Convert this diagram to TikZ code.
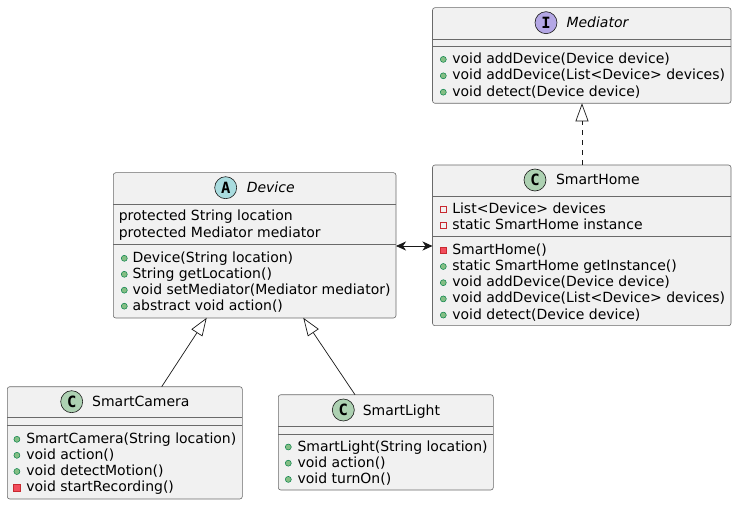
\documentclass[tikz,border=0pt]{standalone}
\usepackage{fontspec}
\setmainfont{DejaVu Sans}
\newfontfamily\circfont{DejaVu Sans Mono}
\usetikzlibrary{arrows.meta}
\definecolor{ln}{HTML}{181818}
\definecolor{bordln}{HTML}{6A6A6A}
\definecolor{boxfill}{HTML}{F1F1F1}
\definecolor{cgreen}{HTML}{ADD1B2}
\definecolor{acyan}{HTML}{A9DCDF}
\definecolor{ipurple}{HTML}{B4A7E5}
\definecolor{pubfill}{HTML}{84BE84}
\definecolor{publine}{HTML}{038048}
\definecolor{privline}{HTML}{C82930}
\definecolor{privfill}{HTML}{F24D5C}
\newcommand\memsize{\fontsize{14}{16}\selectfont}
\tikzset{
  umlbox/.style={draw=bordln, fill=boxfill, line width=0.6pt, rounded corners=2.5pt, anchor=north west, inner sep=0pt, outer sep=0pt},
  sepline/.style={draw=bordln, line width=0.6pt},
  mem/.style={anchor=base west, inner sep=0pt, outer sep=0pt, font=\memsize, text=black},
  ttl/.style={anchor=base west, inner sep=0pt, outer sep=0pt, font=\memsize, text=black},
  ittl/.style={ttl, font=\memsize\itshape},
  pubicon/.style={circle, fill=pubfill, draw=publine, line width=0.5pt, minimum size=6pt, inner sep=0pt},
  privicon/.style={rectangle, draw=privline, fill=none, line width=0.6pt, minimum size=6pt, inner sep=0pt},
  privmicon/.style={rectangle, draw=privline, fill=privfill, line width=0.5pt, minimum size=6.5pt, inner sep=0pt},
  stereo/.style={circle, draw=ln, line width=0.6pt, minimum size=22pt, inner sep=0pt, font=\circfont\bfseries\fontsize{15.5}{15.5}\selectfont},
  conn/.style={draw=ln, line width=0.7pt},
  inh/.style={conn, -{Triangle[open, length=18pt, width=13pt]}},
  real/.style={conn, dash pattern=on 5pt off 5pt, -{Triangle[open, length=18pt, width=13pt]}},
  bidir/.style={conn, {Stealth[length=10pt, width=9pt, inset=3pt]}-{Stealth[length=10pt, width=9pt, inset=3pt]}}
}
% name, iconstyle, iconx, textx, baseline, text
\newcommand\umlmember[6]{%
  \node[#2] (#1i) at (#3,#5-4) {};
  \node[mem] (#1) at (#4,#5) {#6};}
\begin{document}
\begin{tikzpicture}[x=1pt,y=-1pt]
\useasboundingbox[fill=white] (0,0) rectangle (737,505);

% ---------------- Mediator ----------------
\node[umlbox, minimum width=298.5pt, minimum height=95.6pt] (med) at (432.5,7.7) {};
\draw[sepline] (432.5,39.3) -- (731,39.3);
\draw[sepline] (432.5,46.7) -- (731,46.7);
\node[stereo, fill=ipurple] (medc) at (546,22.7) {I};
\node[ittl] (medt) at (566.5,27.8) {Mediator};
\umlmember{ma}{pubicon}{443.3}{452.3}{63.4}{void addDevice(Device device)}
\umlmember{mb}{pubicon}{443.3}{452.3}{79.8}{void addDevice(List<Device> devices)}
\umlmember{mc}{pubicon}{443.3}{452.3}{96.2}{void detect(Device device)}

% ---------------- SmartHome ----------------
\node[umlbox, minimum width=298.5pt, minimum height=160.7pt] (sh) at (432.5,165) {};
\draw[sepline] (432.5,196) -- (731,196);
\draw[sepline] (432.5,236) -- (731,236);
\node[stereo, fill=cgreen] (shc) at (535,180) {C};
\node[ttl] (sht) at (556,185) {SmartHome};
\umlmember{sha}{privicon}{443.3}{452.3}{213.3}{List<Device> devices}
\umlmember{shb}{privicon}{443.3}{452.3}{229.5}{static SmartHome instance}
\umlmember{shc1}{privmicon}{443.3}{452.3}{254.3}{SmartHome()}
\umlmember{shc2}{pubicon}{443.3}{452.3}{270.5}{static SmartHome getInstance()}
\umlmember{shc3}{pubicon}{443.3}{452.3}{286.7}{void addDevice(Device device)}
\umlmember{shc4}{pubicon}{443.3}{452.3}{302.9}{void addDevice(List<Device> devices)}
\umlmember{shc5}{pubicon}{443.3}{452.3}{319.1}{void detect(Device device)}

% ---------------- Device ----------------
\node[umlbox, minimum width=282.7pt, minimum height=145.3pt] (dev) at (113.3,172.7) {};
\draw[sepline] (113.3,204.3) -- (396,204.3);
\draw[sepline] (113.3,244.3) -- (396,244.3);
\node[stereo, fill=acyan] (devc) at (225.7,187.7) {A};
\node[ittl] (devt) at (246.8,192.8) {Device};
\node[mem] (dfa) at (118.8,221) {protected String location};
\node[mem] (dfb) at (118.8,237.2) {protected Mediator mediator};
\umlmember{dma}{pubicon}{124.3}{132.6}{262.3}{Device(String location)}
\umlmember{dmb}{pubicon}{124.3}{132.6}{278.3}{String getLocation()}
\umlmember{dmc}{pubicon}{124.3}{132.6}{294.2}{void setMediator(Mediator mediator)}
\umlmember{dmd}{pubicon}{124.3}{132.6}{310.2}{abstract void action()}

% ---------------- SmartCamera ----------------
\node[umlbox, minimum width=235pt, minimum height=112.3pt] (cam) at (7.3,386.7) {};
\draw[sepline] (7.3,417.7) -- (242.3,417.7);
\draw[sepline] (7.3,425.7) -- (242.3,425.7);
\node[stereo, fill=cgreen] (camc) at (71.7,401.7) {C};
\node[ttl] (camt) at (92.2,406.8) {SmartCamera};
\umlmember{ca}{pubicon}{16.9}{26.3}{443.3}{SmartCamera(String location)}
\umlmember{cb}{pubicon}{16.9}{26.3}{459.3}{void action()}
\umlmember{cc}{pubicon}{16.9}{26.3}{475.5}{void detectMotion()}
\umlmember{cd}{privmicon}{16.9}{26.3}{491.7}{void startRecording()}

% ---------------- SmartLight ----------------
\node[umlbox, minimum width=215pt, minimum height=95.3pt] (lig) at (278.3,394.7) {};
\draw[sepline] (278.3,426) -- (493.3,426);
\draw[sepline] (278.3,434) -- (493.3,434);
\node[stereo, fill=cgreen] (ligc) at (343.3,410) {C};
\node[ttl] (ligt) at (362.8,415) {SmartLight};
\umlmember{la}{pubicon}{288.3}{297.6}{451}{SmartLight(String location)}
\umlmember{lb}{pubicon}{288.3}{297.6}{467.2}{void action()}
\umlmember{lc}{pubicon}{288.3}{297.6}{483.4}{void turnOn()}

% ---------------- connectors ----------------
\coordinate (medB) at (582,103.3);
\coordinate (shT) at (582,165);
\coordinate (devR) at (396,246);
\coordinate (shL) at (432.5,246);
\coordinate (devBl) at (206.7,317.8);
\coordinate (devBr) at (303.3,317.8);
\coordinate (camT) at (161.7,386.7);
\coordinate (ligT) at (355,394.7);

\draw[real] (shT) -- (medB);
\draw[bidir] (devR) -- (shL);
\draw[inh] (camT) -- (devBl);
\draw[inh] (ligT) -- (devBr);
\end{tikzpicture}
\end{document}
